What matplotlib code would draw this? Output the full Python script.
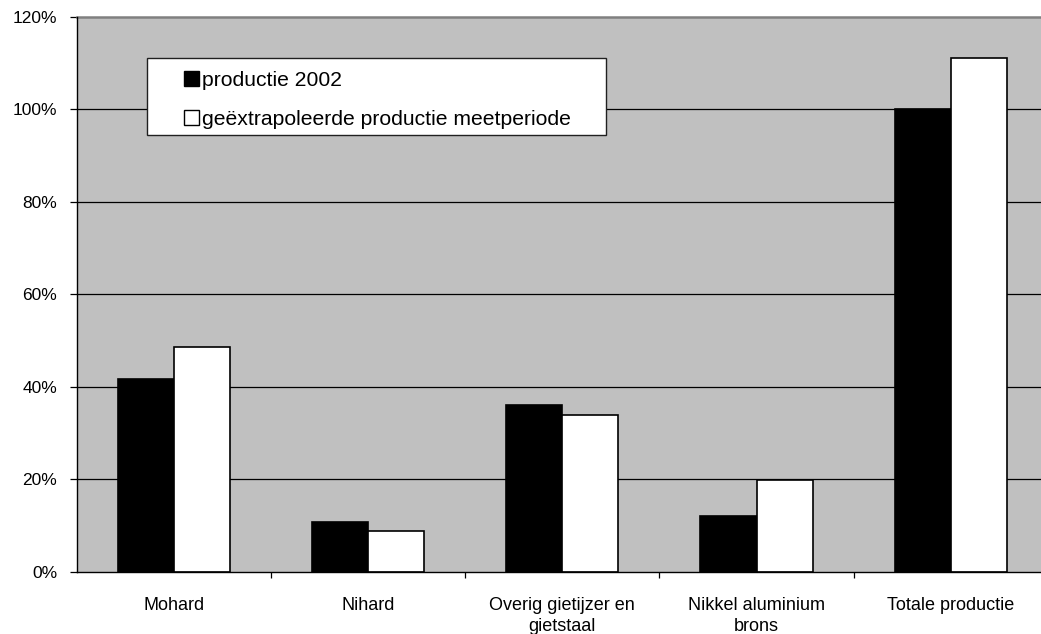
import matplotlib.pyplot as plt
import numpy as np
from matplotlib.patches import Rectangle, Patch
from matplotlib.ticker import FixedLocator, FuncFormatter

plt.rcParams['font.family'] = ['Liberation Sans', 'DejaVu Sans']

categories = ['Mohard', 'Nihard', 'Overig gietijzer en\ngietstaal',
              'Nikkel aluminium\nbrons', 'Totale productie']
productie_2002 = [41.7, 10.8, 36.0, 12.1, 100.0]
productie_meetperiode = [48.6, 8.9, 33.9, 19.8, 111.0]
series_labels = ['productie 2002', 'geëxtrapoleerde productie meetperiode']
y_ticks = [0, 20, 40, 60, 80, 100, 120]

fig = plt.figure(figsize=(10.41, 6.34), dpi=100)
ax = fig.add_axes([0.0737, 0.0983, 1.0067 - 0.0737, 0.9737 - 0.0983])
ax.set_facecolor('#C0C0C0')

x = np.arange(len(categories))
w = 0.289
ax.bar(x - w / 2, productie_2002, w, color='black', edgecolor='black', linewidth=1.2, zorder=3)
ax.bar(x + w / 2, productie_meetperiode, w, color='white', edgecolor='black', linewidth=1.2, zorder=3)

ax.set_xlim(-0.5, len(categories) - 0.5)
ax.set_ylim(0, 120)

# gridlines (black, like excel)
for t in y_ticks[1:-1]:
    ax.axhline(t, color='black', linewidth=0.9, zorder=1)

ax.set_yticks(y_ticks)
ax.yaxis.set_major_formatter(FuncFormatter(lambda v, p: f'{int(v)}%'))
ax.tick_params(axis='y', direction='out', length=5, width=0.9, pad=9, labelsize=12.5)

ax.set_xticks(x)
ax.set_xticklabels(categories, fontsize=13, linespacing=1.3)
ax.tick_params(axis='x', which='major', length=0, pad=18)
ax.xaxis.set_minor_locator(FixedLocator(np.arange(0.5, len(categories) - 0.5, 1)))
ax.tick_params(axis='x', which='minor', direction='out', length=4, width=0.9)

ax.spines['left'].set_color('black')
ax.spines['bottom'].set_color('black')
ax.spines['top'].set_color('#808080')
ax.spines['top'].set_linewidth(1.8)
ax.spines['right'].set_visible(False)
for s in ['left', 'bottom']:
    ax.spines[s].set_linewidth(1.0)
    ax.spines[s].set_zorder(4)

# legend box
ax.add_patch(Rectangle((0.0727, 0.787), 0.545 - 0.0727, 0.925 - 0.787, transform=ax.transAxes,
                       facecolor='white', edgecolor='#202020', linewidth=1.0, zorder=5))
handles = [Patch(facecolor='black', edgecolor='black', linewidth=1),
           Patch(facecolor='white', edgecolor='black', linewidth=1)]
leg = ax.legend(handles, series_labels, loc='center left', bbox_to_anchor=(0.1105, 0.850),
                frameon=False, fontsize=15.2, handlelength=0.72, handleheight=0.72,
                handletextpad=0.15, labelspacing=0.98, borderpad=0, borderaxespad=0)
leg.set_zorder(6)

fig.savefig('out.png', dpi=100)
